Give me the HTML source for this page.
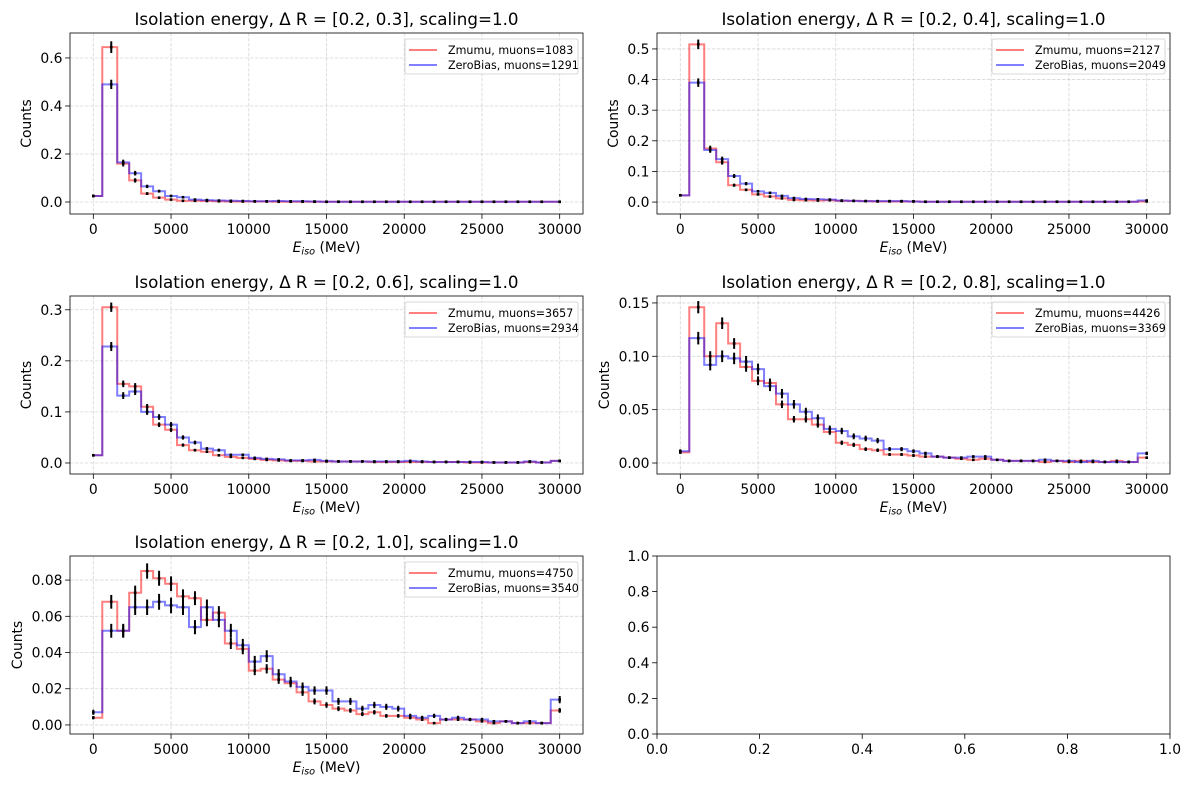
<!DOCTYPE html>
<html><head><meta charset="utf-8"><style>
body{margin:0;background:#fff;}
svg{display:block;font-family:"DejaVu Sans","Liberation Sans",sans-serif;}
</style></head><body>
<svg id="fig" width="1189" height="789" viewBox="0 0 1189 789"></svg>
<script>
const binW = 30000/39;
const xCenters = [0].concat(Array.from({length:37},(_, k)=>(k+1.5)*binW)).concat([30000]);
const titles = ["[0.2, 0.3]","[0.2, 0.4]","[0.2, 0.6]","[0.2, 0.8]","[0.2, 1.0]"];
const nZ = [1083,2127,3657,4426,4750];
const nB = [1291,2049,2934,3369,3540];
const z1 = [0.025,0.645,0.16,0.09,0.035,0.018,0.01,0.005,0.005,0.004,0.003,0.002,0.002,0.002,0.002,0.001,0.001,0.001,0.001,0.001,0.001,0.001,0.001,0.001,0.001,0.001,0.001,0.001,0.001,0.001,0.001,0.001,0.001,0.001,0.001,0.001,0.001,0.001,0.001];
const b1 = [0.025,0.49,0.165,0.12,0.065,0.045,0.025,0.02,0.01,0.008,0.006,0.005,0.004,0.003,0.003,0.004,0.003,0.003,0.002,0.001,0.001,0.001,0.001,0.001,0.001,0.001,0.001,0.001,0.001,0.001,0.001,0.001,0.001,0.001,0.001,0.001,0.001,0.001,0.001];
const z2 = [0.022,0.515,0.175,0.13,0.055,0.04,0.025,0.018,0.012,0.007,0.006,0.005,0.006,0.004,0.004,0.003,0.002,0.002,0.002,0.002,0.001,0.001,0.001,0.001,0.001,0.001,0.001,0.001,0.001,0.001,0.001,0.001,0.001,0.001,0.001,0.001,0.001,0.001,0.002];
const b2 = [0.022,0.39,0.17,0.14,0.085,0.06,0.035,0.03,0.02,0.013,0.01,0.009,0.008,0.005,0.004,0.003,0.003,0.003,0.003,0.002,0.001,0.001,0.001,0.001,0.001,0.001,0.001,0.001,0.001,0.001,0.001,0.001,0.001,0.001,0.001,0.001,0.001,0.001,0.005];
const z3 = [0.015,0.305,0.155,0.15,0.11,0.075,0.065,0.035,0.025,0.022,0.015,0.012,0.01,0.008,0.006,0.005,0.004,0.004,0.003,0.003,0.003,0.003,0.003,0.002,0.002,0.002,0.002,0.002,0.002,0.002,0.002,0.001,0.001,0.001,0.001,0.001,0.002,0.001,0.004];
const b3 = [0.015,0.228,0.132,0.14,0.1,0.09,0.075,0.05,0.04,0.028,0.025,0.016,0.016,0.01,0.008,0.007,0.005,0.005,0.006,0.004,0.003,0.003,0.003,0.003,0.003,0.003,0.004,0.003,0.002,0.002,0.002,0.002,0.002,0.001,0.001,0.001,0.003,0.001,0.004];
const z4 = [0.01,0.146,0.1,0.131,0.112,0.09,0.077,0.075,0.055,0.041,0.041,0.036,0.029,0.019,0.017,0.013,0.012,0.008,0.008,0.007,0.006,0.006,0.005,0.004,0.003,0.004,0.003,0.002,0.002,0.002,0.001,0.002,0.001,0.002,0.001,0.001,0.002,0.001,0.005];
const b4 = [0.011,0.117,0.092,0.1,0.098,0.095,0.088,0.072,0.065,0.055,0.048,0.042,0.032,0.03,0.025,0.023,0.021,0.013,0.013,0.011,0.009,0.006,0.005,0.005,0.006,0.006,0.003,0.002,0.002,0.002,0.003,0.002,0.002,0.001,0.002,0.001,0.001,0.001,0.009];
const z5 = [0.004,0.068,0.052,0.073,0.085,0.081,0.078,0.071,0.07,0.058,0.062,0.045,0.042,0.03,0.031,0.025,0.023,0.018,0.013,0.011,0.009,0.008,0.006,0.007,0.005,0.005,0.004,0.003,0.001,0.003,0.003,0.003,0.002,0.001,0.002,0.001,0.001,0.001,0.008];
const b5 = [0.007,0.052,0.052,0.065,0.065,0.068,0.066,0.065,0.054,0.065,0.058,0.052,0.044,0.035,0.038,0.028,0.024,0.021,0.019,0.019,0.013,0.013,0.009,0.011,0.01,0.009,0.005,0.004,0.005,0.003,0.004,0.003,0.003,0.002,0.002,0.001,0.002,0.001,0.014];
const xTicks = [0,5000,10000,15000,20000,25000,30000];
const yTickSets = [[0,0.2,0.4,0.6],[0,0.1,0.2,0.3,0.4,0.5],[0,0.1,0.2,0.3],[0,0.05,0.10,0.15],[0,0.02,0.04,0.06,0.08]];
const yTickLabels = [["0.0","0.2","0.4","0.6"],["0.0","0.1","0.2","0.3","0.4","0.5"],["0.0","0.1","0.2","0.3"],["0.00","0.05","0.10","0.15"],["0.00","0.02","0.04","0.06","0.08"]];
const yLims = [[-0.05,0.704],[-0.039,0.552],[-0.0216,0.327],[-0.0103,0.1565],[-0.005,0.0933]];
const zData=[z1,z2,z3,z4,z5], bData=[b1,b2,b3,b4,b5];
const boxes=[[70,33,583,214],[657,33,1170,214],[70,296,583,474],[657,296,1170,474],[70,556,583,734]];
const NS="http://www.w3.org/2000/svg";
const fig=document.getElementById('fig');
function mk(tag,attrs,parent,text){const e=document.createElementNS(NS,tag);for(const k in attrs)e.setAttribute(k,attrs[k]);if(text!==undefined)e.textContent=text;(parent||fig).appendChild(e);return e;}

function drawAxesFrame(g,b,xs,ys,xt,xtl,yt,ytl,grid){
  const [L,T,R,B]=b;
  if(grid){
    xt.forEach(v=>{const l=mk('line',{x1:xs(v),x2:xs(v),y1:T,y2:B,stroke:'#b0b0b0','stroke-opacity':0.5,'stroke-dasharray':'3.5,1.5','stroke-width':0.8},g);});
    yt.forEach(v=>{const l=mk('line',{x1:L,x2:R,y1:ys(v),y2:ys(v),stroke:'#b0b0b0','stroke-opacity':0.5,'stroke-dasharray':'3.5,1.5','stroke-width':0.8},g);});
  }
  xt.forEach((v,i)=>{mk('line',{x1:xs(v),x2:xs(v),y1:B,y2:B+4.9,stroke:'#000','stroke-width':0.8},g);
    const t=mk('text',{x:xs(v),y:B+20,'font-size':13.9,'text-anchor':'middle'},g,xtl[i]);});
  yt.forEach((v,i)=>{mk('line',{x1:L-4.9,x2:L,y1:ys(v),y2:ys(v),stroke:'#000','stroke-width':0.8},g);
    const t=mk('text',{x:L-7.5,y:ys(v)+5,'font-size':13.9,'text-anchor':'end'},g,ytl[i]);});
}

for(let p=0;p<5;p++){
  const b=boxes[p];const [L,T,R,B]=b;
  const g=mk('g',{});
  
  
  const xs=v=>L+(v+1500)/33000*(R-L);
  const ys=v=>B-(v-yLims[p][0])/(yLims[p][1]-yLims[p][0])*(B-T);
  drawAxesFrame(g,b,xs,ys,xTicks,xTicks.map(String),yTickSets[p],yTickLabels[p],true);
  const series=[[zData[p],'#ff0000',nZ[p],'zmumu'],[bData[p],'#0000ff',nB[p],'zerobias']];
  series.forEach(([d,c,n,nm])=>{
    let path='';
    for(let i=0;i<d.length;i++){
      const x0=i===0?xCenters[0]:(xCenters[i-1]+xCenters[i])/2;
      const x1=i===d.length-1?xCenters[i]:(xCenters[i]+xCenters[i+1])/2;
      path+=(i===0?'M':'L')+xs(x0).toFixed(2)+','+ys(d[i]).toFixed(2)+' L'+xs(x1).toFixed(2)+','+ys(d[i]).toFixed(2)+' ';
    }
    const pe=mk('path',{d:path,fill:'none',stroke:c,'stroke-opacity':0.5,'stroke-width':2},g);
    
    
  });
  series.forEach(([d,c,n,nm])=>{
    d.forEach((v,i)=>{
      const e=Math.sqrt(v/n);
      const el=mk('line',{x1:xs(xCenters[i]),x2:xs(xCenters[i]),y1:ys(v-e),y2:ys(v+e),stroke:'#000','stroke-width':2},g);
      
      
      mk('rect',{x:xs(xCenters[i])-1.3,y:ys(v)-1.3,width:2.6,height:2.6,fill:'#000'},g);
    });
  });
  mk('rect',{x:L,y:T,width:R-L,height:B-T,fill:'none',stroke:'#000','stroke-width':0.8},g);
  const tt=mk('text',{x:(L+R)/2,y:T-8,'font-size':16.7,'text-anchor':'middle'},g,'Isolation energy, \u0394 R = '+titles[p]+', scaling=1.0');
  
  const xl=mk('text',{x:(L+R)/2,y:B+38,'font-size':13.9,'text-anchor':'middle'},g);
  
  mk('tspan',{'font-style':'italic'},xl,'E');mk('tspan',{'font-style':'italic','font-size':9.7,dy:2.5},xl,'iso');mk('tspan',{dy:-2.5},xl,' (MeV)');
  const yOff = yTickLabels[p][0].length>3 ? 48 : 39;
  const yl=mk('text',{x:0,y:0,'font-size':13.9,'text-anchor':'middle',transform:`translate(${L-yOff},${(T+B)/2}) rotate(-90)`},g,'Counts');
  
  // legend
  const lg=mk('g',{},g);
  
  const lw=173,lx=R-lw-5,ly=T+6;
  mk('rect',{x:lx,y:ly,width:lw,height:35,fill:'#fff','fill-opacity':0.8,stroke:'#ccc','stroke-width':0.8,rx:2},lg);
  [['Zmumu, muons='+nZ[p],'#ff0000'],['ZeroBias, muons='+nB[p],'#0000ff']].forEach(([txt,c],k)=>{
    const yy=ly+11+k*15;
    mk('line',{x1:lx+4,x2:lx+32,y1:yy,y2:yy,stroke:c,'stroke-opacity':0.5,'stroke-width':2},lg);
    const t=mk('text',{x:lx+43,y:yy+4,'font-size':11.1},lg,txt);
    
  });
}
// empty panel
(function(){
  const b=[657,556,1170,734];const [L,T,R,B]=b;
  const g=mk('g',{});
  
  
  const xs=v=>L+v*(R-L), ys=v=>B-v*(B-T);
  const t=[0,0.2,0.4,0.6,0.8,1.0];const tl=t.map(v=>v.toFixed(1));
  drawAxesFrame(g,b,xs,ys,t,tl,t,tl,false);
  mk('rect',{x:L,y:T,width:R-L,height:B-T,fill:'none',stroke:'#000','stroke-width':0.8},g);
})();
</script>
</body></html>
